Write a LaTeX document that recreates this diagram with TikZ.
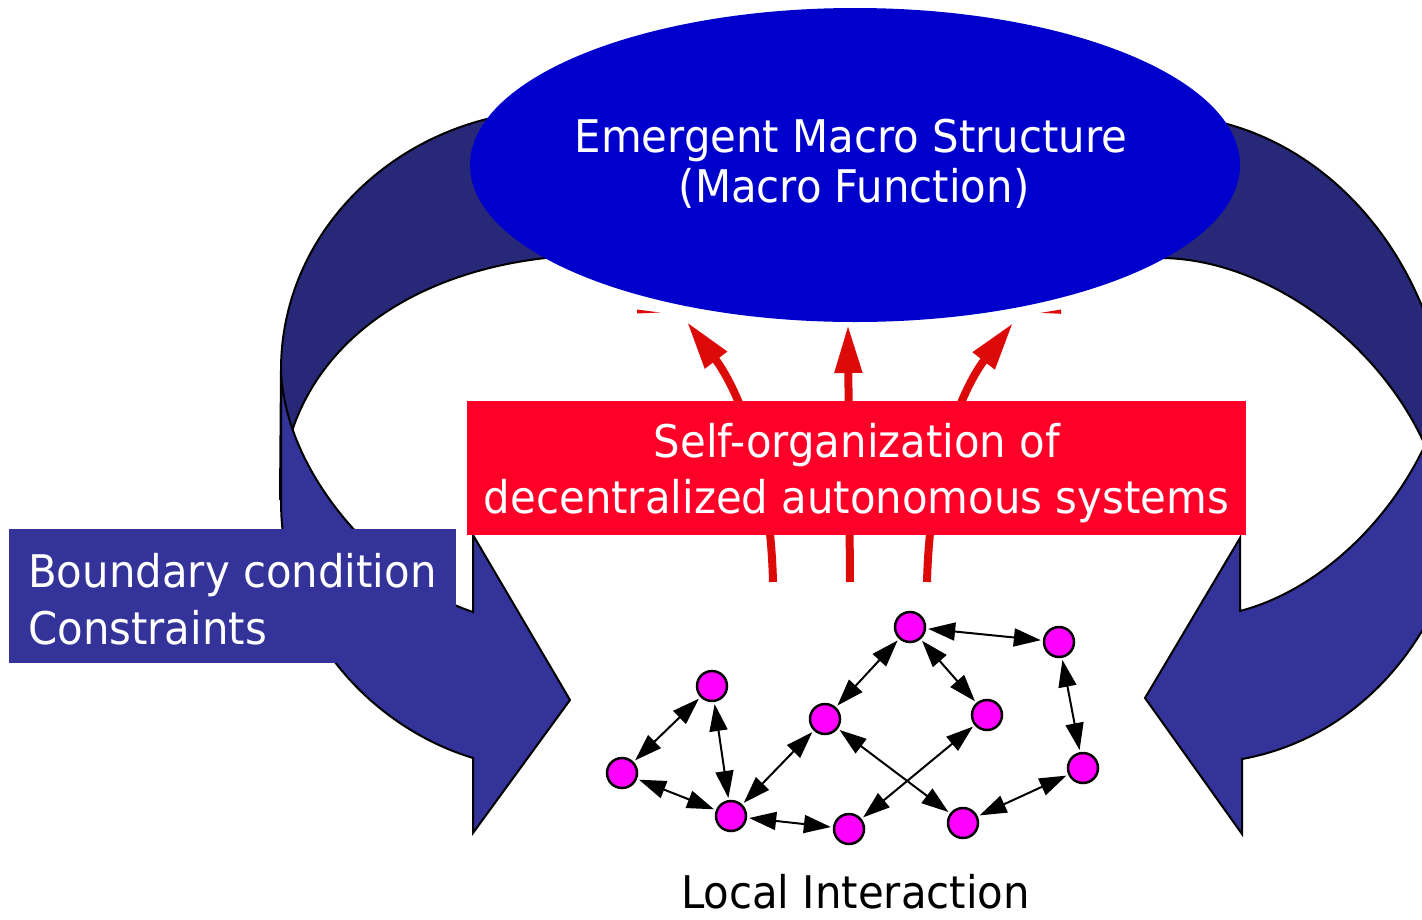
\documentclass[tikz,border=0pt]{standalone}
\usepackage{fontspec}
\setmainfont[FakeStretch=0.93]{DejaVu Sans}
\usetikzlibrary{arrows.meta,shapes.geometric}
\definecolor{ellblue}{HTML}{0000CC}
\definecolor{backblue}{HTML}{282878}
\definecolor{frontblue}{HTML}{333399}
\definecolor{boxred}{HTML}{FF0029}
\definecolor{arrred}{HTML}{DD0A0A}
\definecolor{nodemag}{HTML}{FF00FF}
\newcommand\bigtext{\fontsize{45pt}{50pt}\selectfont}
\tikzset{
  backarrow/.style={fill=backblue, draw=black, line width=2pt, line join=miter},
  frontarrow/.style={fill=frontblue, draw=black, line width=2pt, line join=miter},
  dot/.style={circle, fill=nodemag, draw=black, line width=2.5pt, minimum size=30pt, inner sep=0pt},
  link/.style={line width=2pt, {Triangle[length=27pt,width=18pt]}-{Triangle[length=27pt,width=18pt]}, shorten >=2pt, shorten <=2pt},
  redarrow/.style={draw=arrred, line width=8pt, -{Triangle[length=48pt,width=26pt]}},
  wtext/.style={text=white, font=\bigtext, anchor=base, inner sep=0pt},
  btext/.style={text=black, font=\bigtext, anchor=base, inner sep=0pt},
}
\begin{document}
\begin{tikzpicture}[x=1pt,y=-1pt]
\useasboundingbox (0,0) rectangle (1422,919);
\begin{scope}
\clip (0,0) rectangle (1422,919);
% back parts of the curved arrows
\path[backarrow] (640,110) -- (560,110) .. controls (406,110) and (281,226) .. (281,370)
  -- (280,500) .. controls (285,340) and (430,255) .. (600,255) -- (640,255) -- cycle;
\path[backarrow] (1120,115) -- (1160,115) .. controls (1320,115) and (1450,265) .. (1450,450)
  -- (1450,520) -- (1425,445) .. controls (1375,335) and (1260,258) .. (1160,258) -- (1120,258) -- cycle;
% ellipse
\node[ellipse, fill=ellblue, minimum width=770pt, minimum height=314pt, inner sep=0pt] (macro) at (855,165) {};
% front parts
\path[frontarrow] (281,370) -- (281,500) .. controls (281,640) and (380,730) .. (473,758)
  -- (473,833) -- (570,700) -- (473,535) -- (473,612)
  .. controls (390,585) and (285,480) .. (281,370) -- cycle;
\path[frontarrow] (1425,445) .. controls (1390,520) and (1320,590) .. (1240,611)
  -- (1240,538) -- (1145,698) -- (1242,834) -- (1242,759)
  .. controls (1320,745) and (1410,690) .. (1455,560) -- (1460,445) -- cycle;
% small red slivers
\fill[arrred] (637,309.5) -- (660,312.5) -- (637,313.5) -- cycle;
\fill[arrred] (1061,309.5) -- (1041,312.8) -- (1061,313.8) -- cycle;
% red arrows
\coordinate (la0) at (773,582);
\coordinate (la1) at (687,322);
\coordinate (ma0) at (850,582);
\coordinate (ma1) at (848,325);
\coordinate (ra0) at (927,582);
\coordinate (ra1) at (1013,323);
\draw[redarrow] (la0) .. controls (770,460) and (735,385) .. (la1);
\draw[redarrow] (ma0) -- (ma1);
\draw[redarrow] (ra0) .. controls (930,460) and (965,385) .. (ra1);
% red box
\node[fill=boxred, minimum width=779pt, minimum height=134pt, inner sep=0pt] (selforg) at (856.5,468) {};
% label box
\node[fill=frontblue, minimum width=447pt, minimum height=134pt, inner sep=0pt] (bound) at (232.5,596) {};
% network
\node[dot] (A) at (712,686) {};
\node[dot] (B) at (622,773) {};
\node[dot] (C) at (731,816) {};
\node[dot] (D) at (825,719) {};
\node[dot] (E) at (910,627) {};
\node[dot] (F) at (1059,642) {};
\node[dot] (G) at (987,715) {};
\node[dot] (H) at (1083,768) {};
\node[dot] (I) at (849,829) {};
\node[dot] (J) at (963,823) {};
\draw[link] (A) -- (B);
\draw[link] (A) -- (C);
\draw[link] (B) -- (C);
\draw[link] (C) -- (D);
\draw[link] (C) -- (I);
\draw[link] (D) -- (E);
\draw[link] (E) -- (G);
\draw[link] (E) -- (F);
\draw[link] (F) -- (H);
\draw[link] (H) -- (J);
\draw[link] (D) -- (J);
\draw[link] (G) -- (I);
% texts
\node[wtext] (t1) at (851,152) {Emergent Macro Structure};
\node[wtext] (t2) at (854,202) {(Macro Function)};
\node[wtext] (t3) at (857,457) {Self-organization of};
\node[wtext] (t4) at (856.5,513) {decentralized autonomous systems};
\node[wtext, anchor=base west] (t5) at (28,587) {Boundary condition};
\node[wtext, anchor=base west] (t6) at (28,644) {Constraints};
\node[btext] (t7) at (855.5,908) {Local Interaction};
\end{scope}
\end{tikzpicture}
\end{document}
